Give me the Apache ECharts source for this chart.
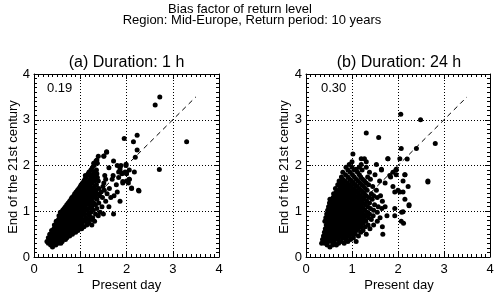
<!DOCTYPE html>
<html>
<head>
<meta charset="utf-8">
<script src="https://cdn.jsdelivr.net/npm/echarts@6/dist/echarts.min.js"></script>
<style>
html,body{margin:0;padding:0;background:#fff;}
#c{width:500px;height:296px;}
</style>
</head>
<body>
<div id="c"></div>
<script>
// ---- text ----
const titleLines = ["Bias factor of return level", "Region: Mid-Europe, Return period: 10 years"];
const panelTitles = ["(a) Duration: 1 h", "(b) Duration: 24 h"];
const panelStats = ["0.19", "0.30"];
const xAxisTitle = "Present day";
const yAxisTitle = "End of the 21st century";
const axisTicks = [0, 1, 2, 3, 4];
const refLine = [[0.3, 0.3], [3.5, 3.5]];

// ---- panel (a) 1 h: rows of [y, [x values]] ----
const rowsA = [
  [0.22, [0.40]],
  [0.26, [0.36, 0.47]],
  [0.30, [0.31, 0.43, 0.52, 0.58]],
  [0.34, [0.28, 0.39, 0.47, 0.61]],
  [0.38, [0.35, 0.44, 0.53, 0.57, 0.68]],
  [0.42, [0.31, 0.40, 0.50, 0.62, 0.71]],
  [0.46, [0.37, 0.45, 0.55, 0.59, 0.67, 0.77]],
  [0.50, [0.34, 0.43, 0.51, 0.63, 0.74, 0.83]],
  [0.54, [0.40, 0.48, 0.57, 0.66, 0.70, 0.79, 0.90]],
  [0.58, [0.38, 0.46, 0.53, 0.61, 0.73, 0.82, 0.95]],
  [0.62, [0.43, 0.51, 0.58, 0.67, 0.76, 0.86, 0.93, 1.03]],
  [0.66, [0.47, 0.55, 0.64, 0.71, 0.80, 0.89, 1.00, 1.08]],
  [0.70, [0.44, 0.52, 0.60, 0.69, 0.78, 0.84, 0.97, 1.14, 1.25]],
  [0.74, [0.50, 0.58, 0.66, 0.74, 0.83, 0.92, 1.04, 1.19]],
  [0.78, [0.48, 0.55, 0.63, 0.72, 0.81, 0.87, 0.99, 1.10, 1.31]],
  [0.82, [0.53, 0.61, 0.69, 0.77, 0.85, 0.94, 1.06, 1.16, 1.24]],
  [0.86, [0.56, 0.64, 0.72, 0.80, 0.90, 0.98, 1.12, 1.27]],
  [0.90, [0.54, 0.62, 0.70, 0.79, 0.86, 0.95, 1.03, 1.20, 1.39]],
  [0.94, [0.59, 0.67, 0.75, 0.83, 0.91, 1.00, 1.09, 1.17, 1.33, 1.50, 1.72]],
  [0.98, [0.57, 0.65, 0.73, 0.81, 0.89, 0.97, 1.07, 1.23, 1.43]],
  [1.02, [0.62, 0.70, 0.78, 0.86, 0.94, 1.04, 1.14, 1.28]],
  [1.06, [0.65, 0.72, 0.80, 0.88, 0.96, 1.02, 1.11, 1.19, 1.36]],
  [1.10, [0.68, 0.76, 0.84, 0.92, 1.00, 1.08, 1.25, 1.47, 1.62]],
  [1.14, [0.71, 0.79, 0.87, 0.95, 1.04, 1.13, 1.21, 1.33]],
  [1.18, [0.74, 0.82, 0.90, 0.99, 1.07, 1.16, 1.29, 1.40]],
  [1.22, [0.77, 0.85, 0.93, 1.01, 1.10, 1.19, 1.26, 1.55, 1.86]],
  [1.26, [0.80, 0.88, 0.97, 1.05, 1.14, 1.23, 1.36]],
  [1.30, [0.82, 0.90, 0.98, 1.08, 1.17, 1.30, 1.48, 1.66]],
  [1.34, [0.86, 0.94, 1.02, 1.11, 1.21, 1.33, 1.42, 1.73]],
  [1.38, [0.88, 0.96, 1.06, 1.15, 1.26, 1.37, 1.58]],
  [1.42, [0.91, 0.99, 1.09, 1.18, 1.29, 1.45, 1.80]],
  [1.46, [0.94, 1.03, 1.12, 1.22, 1.34, 1.52, 2.26]],
  [1.50, [0.97, 1.06, 1.16, 1.26, 1.40, 1.63, 2.11]],
  [1.54, [1.00, 1.09, 1.19, 1.31, 1.49]],
  [1.58, [1.02, 1.12, 1.22, 1.35, 1.78]],
  [1.62, [1.05, 1.15, 1.26, 1.51, 1.92, 2.04]],
  [1.66, [1.08, 1.19, 1.30, 1.39, 2.00]],
  [1.70, [1.10, 1.22, 1.33, 1.55, 1.69, 2.06]],
  [1.74, [1.13, 1.25, 1.37, 1.83]],
  [1.78, [1.11, 1.20, 1.30, 1.53, 1.71]],
  [1.82, [1.17, 1.28, 1.36, 1.90, 2.00]],
  [1.86, [1.19, 1.31, 1.83, 1.97, 2.17]],
  [1.90, [1.23, 1.35, 1.86, 2.06]],
  [1.95, [1.26, 1.62, 1.86]],
  [2.00, [1.30, 1.80, 1.88, 1.99]],
  [2.05, [1.29, 1.37]],
  [2.10, [1.34, 1.72]],
  [2.20, [1.39, 1.51]],
  [2.30, [1.57]]
];
const outliersA = [
  [2.72, 3.50], [2.62, 3.32], [3.30, 2.52], [2.71, 1.91], [2.23, 2.66],
  [1.95, 2.59], [2.15, 2.52], [2.23, 2.34], [2.19, 2.18], [1.99, 2.03],
  [1.90, 1.83], [2.00, 1.83], [2.06, 1.70], [1.92, 1.65], [2.11, 1.51],
  [2.27, 1.44], [1.57, 2.29], [1.51, 2.21], [1.36, 2.12]
];

// ---- panel (b) 24 h ----
const rowsB = [
  [0.22, [0.52]],
  [0.26, [0.46, 0.58, 0.66]],
  [0.30, [0.34, 0.41, 0.62, 0.71, 0.83]],
  [0.34, [0.39, 0.49, 0.56, 0.76, 0.91, 1.09]],
  [0.38, [0.36, 0.45, 0.53, 0.63, 0.70, 0.86, 0.97]],
  [0.42, [0.41, 0.50, 0.59, 0.68, 0.79, 0.88, 1.03]],
  [0.46, [0.38, 0.47, 0.55, 0.64, 0.73, 0.82, 0.94, 1.14]],
  [0.50, [0.43, 0.52, 0.61, 0.69, 0.78, 0.89, 0.99, 1.07, 1.31, 1.67]],
  [0.54, [0.40, 0.48, 0.57, 0.66, 0.75, 0.85, 0.93, 1.02, 1.19]],
  [0.58, [0.45, 0.54, 0.62, 0.71, 0.80, 0.90, 0.97, 1.10, 1.24]],
  [0.62, [0.42, 0.50, 0.59, 0.68, 0.77, 0.87, 0.95, 1.05, 1.14, 1.39]],
  [0.66, [0.47, 0.55, 0.64, 0.73, 0.83, 0.92, 1.01, 1.09, 1.20, 1.29, 1.66]],
  [0.70, [0.44, 0.52, 0.61, 0.70, 0.79, 0.88, 0.98, 1.07, 1.16, 1.35, 1.47]],
  [0.74, [0.49, 0.57, 0.66, 0.75, 0.84, 0.94, 1.03, 1.12, 1.24, 2.12]],
  [0.78, [0.41, 0.54, 0.63, 0.72, 0.81, 0.90, 0.99, 1.09, 1.19, 1.30, 1.55, 2.07]],
  [0.82, [0.46, 0.59, 0.68, 0.77, 0.86, 0.96, 1.05, 1.14, 1.27, 1.42]],
  [0.86, [0.43, 0.51, 0.64, 0.73, 0.82, 0.92, 1.01, 1.11, 1.22, 1.36, 1.61]],
  [0.90, [0.48, 0.56, 0.69, 0.78, 0.87, 0.97, 1.07, 1.17, 1.30, 1.46, 1.76, 1.93]],
  [0.94, [0.45, 0.54, 0.62, 0.74, 0.83, 0.93, 1.03, 1.13, 1.24, 1.38]],
  [0.98, [0.50, 0.59, 0.67, 0.79, 0.89, 0.99, 1.09, 1.20, 1.33, 1.55, 2.08]],
  [1.02, [0.47, 0.56, 0.64, 0.73, 0.84, 0.95, 1.05, 1.16, 1.28, 1.47]],
  [1.06, [0.52, 0.61, 0.70, 0.80, 0.91, 1.01, 1.12, 1.24, 1.40, 1.65, 1.93]],
  [1.10, [0.49, 0.58, 0.67, 0.76, 0.86, 0.97, 1.08, 1.20, 1.34, 1.57, 1.72]],
  [1.14, [0.54, 0.63, 0.72, 0.82, 0.93, 1.04, 1.15, 1.29, 1.49, 2.24]],
  [1.18, [0.51, 0.60, 0.69, 0.79, 0.89, 1.00, 1.11, 1.23, 1.38]],
  [1.22, [0.57, 0.66, 0.75, 0.85, 0.96, 1.07, 1.19, 1.32, 1.66]],
  [1.26, [0.52, 0.62, 0.72, 0.82, 0.92, 1.03, 1.15, 1.27, 1.44, 2.15]],
  [1.30, [0.59, 0.68, 0.78, 0.88, 0.99, 1.11, 1.22, 1.37, 1.55]],
  [1.34, [0.64, 0.74, 0.84, 0.95, 1.06, 1.18, 1.31, 1.47, 1.62]],
  [1.38, [0.60, 0.70, 0.80, 0.91, 1.02, 1.14, 1.27, 1.42]],
  [1.42, [0.66, 0.76, 0.87, 0.98, 1.10, 1.23, 1.93, 2.04, 2.11]],
  [1.46, [0.72, 0.83, 0.94, 1.06, 1.19, 1.33, 1.53, 2.00]],
  [1.50, [0.64, 0.78, 0.90, 1.02, 1.15, 1.29]],
  [1.54, [0.74, 0.86, 0.98, 1.11, 1.25, 1.45, 1.89, 2.22]],
  [1.58, [0.69, 0.81, 0.94, 1.07, 1.21, 1.36]],
  [1.62, [0.77, 0.90, 1.03, 1.17, 1.31, 1.72]],
  [1.66, [0.72, 0.85, 0.99, 1.13, 1.27, 1.60, 2.11, 2.65]],
  [1.70, [0.80, 0.95, 1.09, 1.23, 1.40]],
  [1.75, [0.77, 0.91, 1.05, 1.19, 1.34, 1.84]],
  [1.80, [0.86, 1.01, 1.16, 1.50, 1.96, 2.15]],
  [1.85, [0.80, 0.96, 1.12, 1.38, 1.89]],
  [1.90, [0.91, 1.05, 1.22, 1.64, 1.96]],
  [1.96, [0.87, 1.00, 1.16, 1.31]],
  [2.02, [0.94, 1.20, 1.53]],
  [2.08, [1.00, 1.31]],
  [2.15, [1.20, 1.27, 1.78, 2.04]],
  [2.25, [1.02]]
];
const outliersB = [
  [2.06, 3.12], [2.49, 3.00], [1.31, 2.71], [1.58, 2.61], [2.81, 2.48],
  [2.07, 2.37], [2.40, 2.37], [2.20, 2.14], [1.78, 2.15], [1.64, 1.92],
  [1.96, 1.92], [1.82, 1.78], [2.15, 1.80], [2.65, 1.64], [1.09, 1.92],
  [2.24, 1.12], [2.11, 0.99]
];

function toPairs(rows, extra) {
  const out = [];
  rows.forEach(r => r[1].forEach(x => out.push([x, r[0]])));
  return out.concat(extra);
}
const dataA = toPairs(rowsA, outliersA);
const dataB = toPairs(rowsB, outliersB);

const FONT = "Liberation Sans, Arial, Helvetica, sans-serif";
const grids = [
  { left: 34, top: 74, width: 185, height: 183 },
  { left: 306, top: 74, width: 184, height: 183 }
];

function axisBase(gi, type, pos, showLabel) {
  return {
    type: 'value', gridIndex: gi, position: pos,
    min: axisTicks[0], max: axisTicks[axisTicks.length - 1], interval: 1,
    axisLine: { show: true, onZero: false, lineStyle: { color: '#000', width: 1 } },
    axisTick: { show: true, inside: true, length: 5, lineStyle: { color: '#000' } },
    minorTick: { show: true, splitNumber: 10, length: 3, lineStyle: { color: '#000' } },
    axisLabel: { show: showLabel, color: '#000', fontSize: 13, fontFamily: FONT, margin: type === 'x' ? 6 : 4,
                 formatter: v => String(v) },
    splitLine: { show: showLabel, lineStyle: { color: '#000', type: [1, 2], width: 1 } },
    minorSplitLine: { show: false }
  };
}

const xAxes = [], yAxes = [], series = [];
[dataA, dataB].forEach((d, i) => {
  xAxes.push(axisBase(i, 'x', 'bottom', true));
  xAxes.push(axisBase(i, 'x', 'top', false));
  yAxes.push(axisBase(i, 'y', 'left', true));
  yAxes.push(axisBase(i, 'y', 'right', false));
  series.push({
    type: 'scatter', xAxisIndex: 2 * i, yAxisIndex: 2 * i,
    data: d, symbol: 'circle', symbolSize: 5,
    itemStyle: { color: '#000', opacity: 1, borderWidth: 0 }, silent: true, z: 3
  });
  series.push({
    type: 'line', xAxisIndex: 2 * i, yAxisIndex: 2 * i,
    data: refLine, symbol: 'none', silent: true, z: 4,
    lineStyle: { color: '#000', width: 1, type: [5, 4] }
  });
});

const centersX = [126.5, 399];
const yTitleX = [13, 284];
const statX = [47, 321];
const graphics = [
  { type: 'text', x: 240, y: 9, style: { text: titleLines[0], font: '13px ' + FONT, fill: '#000', textAlign: 'center', textVerticalAlign: 'middle' } },
  { type: 'text', x: 252, y: 20.5, style: { text: titleLines[1], font: '13px ' + FONT, fill: '#000', textAlign: 'center', textVerticalAlign: 'middle' } }
];
[0, 1].forEach(i => {
  graphics.push({ type: 'text', x: centersX[i], y: 63, style: { text: panelTitles[i], font: '16px ' + FONT, fill: '#000', textAlign: 'center', textVerticalAlign: 'middle' } });
  graphics.push({ type: 'text', x: centersX[i], y: 285, style: { text: xAxisTitle, font: '13px ' + FONT, fill: '#000', textAlign: 'center', textVerticalAlign: 'middle' } });
  graphics.push({ type: 'text', x: yTitleX[i], y: 167, rotation: Math.PI / 2, style: { text: yAxisTitle, font: '13px ' + FONT, fill: '#000', textAlign: 'center', textVerticalAlign: 'middle' } });
  graphics.push({ type: 'text', x: statX[i], y: 88, style: { text: panelStats[i], font: '13px ' + FONT, fill: '#000', textAlign: 'left', textVerticalAlign: 'middle' } });
});

const chart = echarts.init(document.getElementById('c'), null, { renderer: 'canvas' });
chart.setOption({
  animation: false,
  backgroundColor: '#fff',
  grid: grids.map(g => Object.assign({ outerBoundsMode: 'none', containLabel: false }, g)),
  xAxis: xAxes,
  yAxis: yAxes,
  series: series,
  graphic: graphics
});
</script>
</body>
</html>
